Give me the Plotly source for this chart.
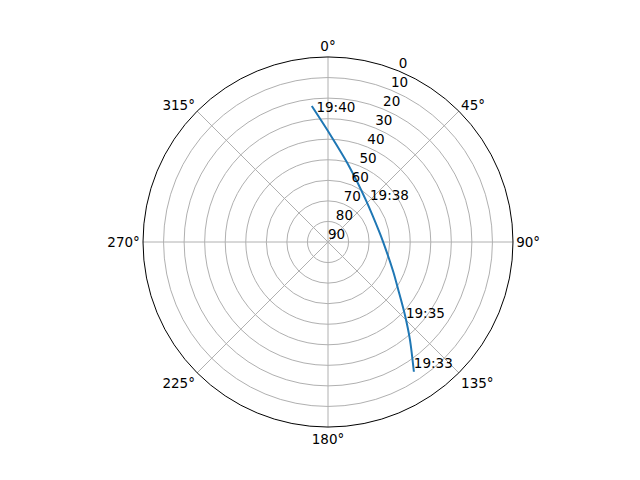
import plotly.graph_objects as go

# satellite pass track (azimuth deg, elevation deg)
azimuth = [146.5, 140.1, 133.5, 124.3, 114.5, 90.3, 80.5, 42.1, 15.8, 0.7, 353.2]
elevation = [14.3, 27.8, 38.4, 48.6, 55.1, 63.1, 64.4, 62.5, 51.9, 37.1, 23.4]

# time labels along the pass
label_az = [146.5, 135.4, 47.1, 354.8]
label_el = [14.3, 36.0, 62.1, 28.0]
label_text = ["19:33", "19:35", "19:38", "19:40"]

radial_ticks = [0, 10, 20, 30, 40, 50, 60, 70, 80, 90]
radial_label_angle = 22.5

fig = go.Figure()

fig.add_trace(go.Scatterpolar(
    theta=azimuth,
    r=elevation,
    mode="lines",
    line=dict(color="#1f77b4", width=2, shape="spline", smoothing=0.8),
    hoverinfo="skip",
))

fig.add_trace(go.Scatterpolar(
    theta=label_az,
    r=label_el,
    mode="text",
    text=label_text,
    textposition="top right",
    textfont=dict(size=13.5, color="black"),
    hoverinfo="skip",
))

# radial tick labels placed like matplotlib (at 22.5 deg, just above-right of the ring)
fig.add_trace(go.Scatterpolar(
    theta=[radial_label_angle] * len(radial_ticks),
    r=radial_ticks,
    mode="text",
    text=[str(v) for v in radial_ticks],
    textposition="top right",
    textfont=dict(size=13.5, color="black"),
    hoverinfo="skip",
    cliponaxis=False,
))

fig.update_layout(
    width=640, height=480,
    paper_bgcolor="white",
    showlegend=False,
    margin=dict(l=0, r=0, t=0, b=0),
    font=dict(family="DejaVu Sans", size=13.5, color="black"),
    polar=dict(
        domain=dict(x=[0.2109, 0.7891], y=[0.1271, 0.8979]),
        bgcolor="white",
        angularaxis=dict(
            rotation=90,
            direction="clockwise",
            tickmode="array",
            tickvals=[0, 45, 90, 135, 180, 225, 270, 315],
            ticktext=["0°", "45°", "90°", "135°", "180°", "225°", "270°", "315°"],
            showline=True,
            linecolor="black",
            linewidth=1,
            gridcolor="#b0b0b0",
            gridwidth=1,
            ticks="",
        ),
        radialaxis=dict(
            range=[90, 0],
            tickvals=radial_ticks,
            showticklabels=False,
            showline=False,
            ticks="",
            gridcolor="#b0b0b0",
            gridwidth=1,
        ),
    ),
)

fig.write_html("out.html")
